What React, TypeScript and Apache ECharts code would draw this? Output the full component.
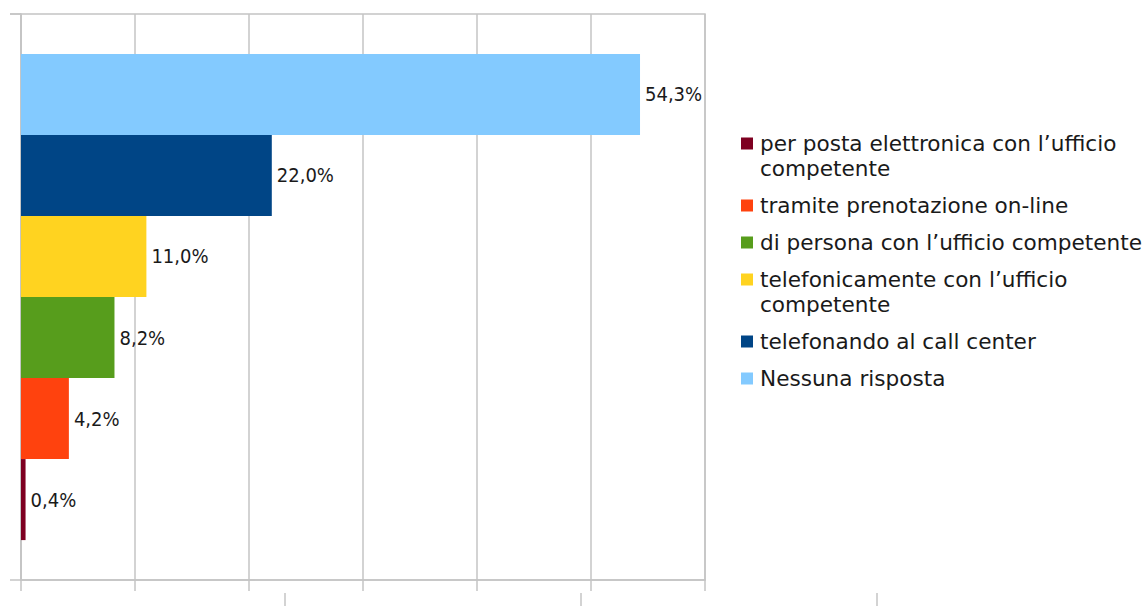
import React, { useEffect, useRef } from "react";
import * as echarts from "echarts";

const categories = [
  "per posta elettronica con l’ufficio\ncompetente",
  "tramite prenotazione on-line",
  "di persona con l’ufficio competente",
  "telefonicamente con l’ufficio\ncompetente",
  "telefonando al call center",
  "Nessuna risposta",
];
const values = [0.4, 4.2, 8.2, 11.0, 22.0, 54.3];
const colors = ["#7e0021", "#ff420e", "#579d1c", "#ffd320", "#004586", "#83caff"];
const axisMin = 0;
const axisMax = 60;
const axisInterval = 10;

const GRAY = "#c4c4c4";

export default function App() {
  const ref = useRef<HTMLDivElement>(null);
  useEffect(() => {
    if (!ref.current) return;
    const chart = echarts.init(ref.current, undefined, { renderer: "svg" });

    const legendGraphics: any[] = [];
    let y = 143.5;
    categories.forEach((name, i) => {
      legendGraphics.push({
        type: "rect",
        shape: { x: 741, y: y - 6, width: 12, height: 12 },
        style: { fill: colors[i] },
      });
      legendGraphics.push({
        type: "text",
        x: 760,
        y: y - 12.5,
        style: {
          text: name,
          fill: "#1a1a1a",
          font: "21.6px 'DejaVu Sans'",
          lineHeight: 25,
          verticalAlign: "top",
          align: "left",
        },
      });
      y += name.split("\n").length * 25 + 12;
    });

    const extraLines = [285, 581, 877].map((x) => ({
      type: "line",
      shape: { x1: x, y1: 593, x2: x, y2: 606 },
      style: { stroke: GRAY, lineWidth: 1.5 },
    }));
    extraLines.push({
      type: "line",
      shape: { x1: 10, y1: 14, x2: 21, y2: 14 },
      style: { stroke: GRAY, lineWidth: 1.5 },
    } as any);

    const order = categories.map((_, i) => i).reverse();

    chart.setOption({
      animation: false,
      grid: {
        left: 21,
        right: 437,
        top: 14,
        bottom: 26,
        show: true,
        borderColor: GRAY,
        borderWidth: 1.5,
        containLabel: false,
      },
      xAxis: {
        type: "value",
        min: axisMin,
        max: axisMax,
        interval: axisInterval,
        axisLine: { show: true, lineStyle: { color: GRAY, width: 1.5 } },
        axisTick: { show: true, length: 11, lineStyle: { color: GRAY, width: 1.5 } },
        axisLabel: { show: false },
        splitLine: { show: true, lineStyle: { color: GRAY, width: 1.5 } },
      },
      yAxis: {
        type: "category",
        data: [""],
        axisLine: { show: true, lineStyle: { color: GRAY, width: 1.5 } },
        axisTick: { show: true, length: 11, lineStyle: { color: GRAY, width: 1.5 } },
        axisLabel: { show: false },
      },
      series: order.map((i) => ({
        type: "bar",
        name: categories[i],
        data: [values[i]],
        barGap: "0%",
        barCategoryGap: "14.1%",
        itemStyle: { color: colors[i] },
        label: {
          show: true,
          position: "right",
          distance: 5,
          color: "#1a1a1a",
          fontFamily: "'DejaVu Sans Condensed', sans-serif",
          fontSize: 20,
          formatter: (p: any) => p.value.toFixed(1).replace(".", ",") + "%",
        },
      })),
      graphic: [...legendGraphics, ...extraLines],
    });
    return () => chart.dispose();
  }, []);
  return (
    <div
      ref={ref}
      style={{ position: "absolute", left: 0, top: 0, width: 1142, height: 606, background: "#fff" }}
    />
  );
}
